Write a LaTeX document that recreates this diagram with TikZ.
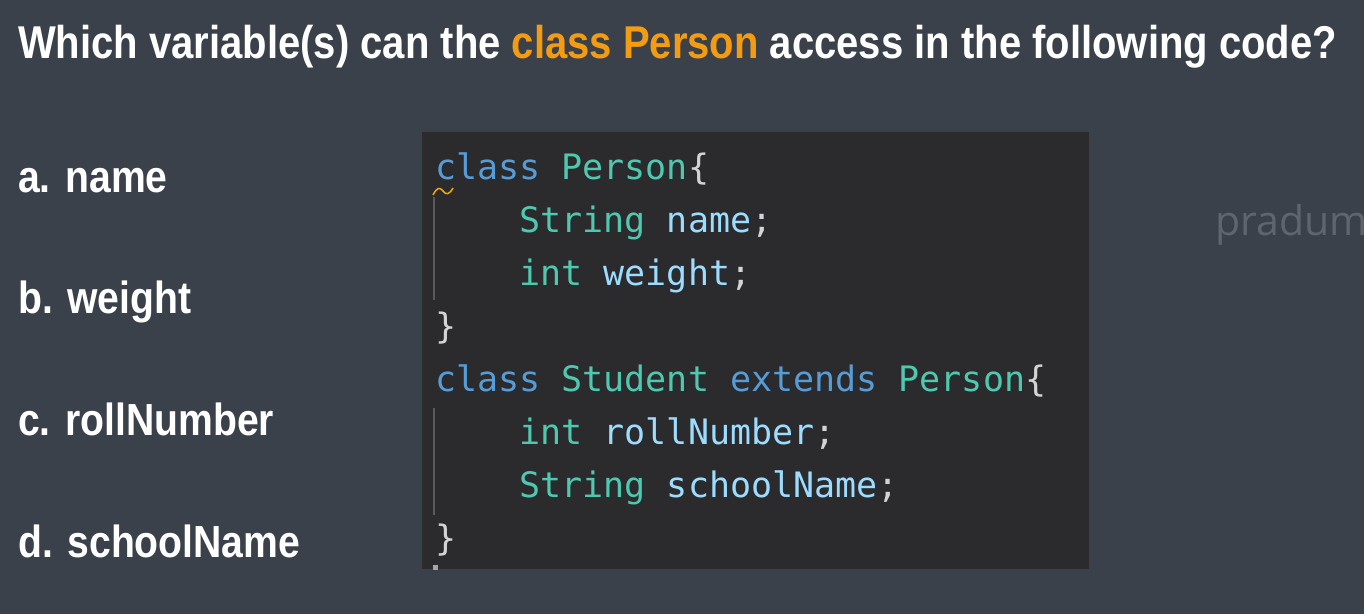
\documentclass[tikz,border=0pt]{standalone}
\usepackage{fontspec}
\newfontfamily\headfont{Liberation Sans}[FakeStretch=0.87]
\newfontfamily\codefont{DejaVu Sans Mono}
\newfontfamily\markfont{Open Sans}
\definecolor{slidebg}{HTML}{3A414B}
\definecolor{codebg}{HTML}{2B2A2D}
\definecolor{accent}{HTML}{F39C12}
\definecolor{kwblue}{HTML}{569CD6}
\definecolor{tyteal}{HTML}{4EC9B0}
\definecolor{varblue}{HTML}{9CDCFE}
\definecolor{plain}{HTML}{D4D4D4}
\definecolor{guide}{HTML}{5A5A5A}
\definecolor{markgray}{HTML}{5E656F}
\newcommand{\kw}[1]{\textcolor{kwblue}{#1}}
\newcommand{\ty}[1]{\textcolor{tyteal}{#1}}
\newcommand{\vr}[1]{\textcolor{varblue}{#1}}
\begin{document}
\begin{tikzpicture}[x=1pt,y=-1pt,
  head/.style={anchor=base west,inner sep=0pt,text=white,font=\headfont\bfseries\fontsize{46}{50}\selectfont},
  option/.style={anchor=base west,inner sep=0pt,text=white,font=\headfont\bfseries\fontsize{45}{50}\selectfont},
  codeline/.style={anchor=base west,inner sep=0pt,text=plain,font=\codefont\fontsize{35}{40}\selectfont}]
\useasboundingbox (0,0) rectangle (1364,614);
\fill[slidebg] (0,0) rectangle (1364,614);
% question
\node[head] (question) at (18,58) {Which variable(s) can the \textcolor{accent}{class Person} access in the following code?};
% answers
\node[option] (optA) at (18,192) {a. name};
\node[option] (optB) at (18,313.5) {b. weight};
\node[option] (optC) at (18,435) {c. rollNumber};
\node[option] (optD) at (18,557) {d. schoolName};
% code box
\fill[codebg] (422,132) rectangle (1089,569);
\draw[guide,line width=1.5pt] (434,197) -- (434,300);
\draw[guide,line width=1.5pt] (434,408) -- (434,515);
\draw[accent!90!yellow,line width=1.5pt] (433,195) .. controls (437,187) and (440,187) .. (443,191) .. controls (446,195) and (449,195) .. (453,188);
\fill[gray!70] (433,565) rectangle (438,570);
\node[codeline] (l1) at (435,179) {\kw{class} \ty{Person}\{};
\node[codeline] (l2) at (435,232) {\ \ \ \ \ty{String} \vr{name};};
\node[codeline] (l3) at (435,285) {\ \ \ \ \ty{int} \vr{weight};};
\node[codeline] (l4) at (435,338) {\}};
\node[codeline] (l5) at (435,391) {\kw{class} \ty{Student} \kw{extends} \ty{Person}\{};
\node[codeline] (l6) at (435,444) {\ \ \ \ \ty{int} \vr{rollNumber};};
\node[codeline] (l7) at (435,497) {\ \ \ \ \ty{String} \vr{schoolName};};
\node[codeline] (l8) at (435,550) {\}};
% watermark
\node[anchor=base west,inner sep=0pt,text=markgray,font=\markfont\fontsize{41}{45}\selectfont] (mark) at (1215,235) {pradum};
\end{tikzpicture}
\end{document}
